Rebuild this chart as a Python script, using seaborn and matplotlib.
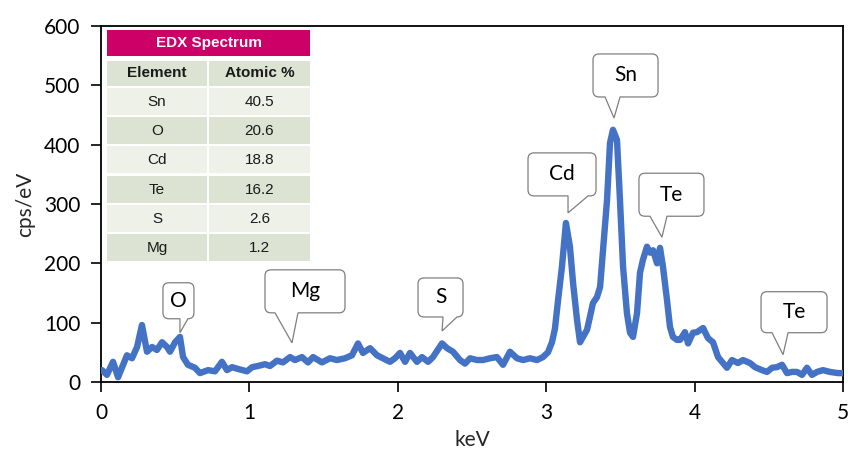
import matplotlib
matplotlib.use("Agg")
import matplotlib.pyplot as plt
import pandas as pd
import seaborn as sns
from matplotlib.path import Path
from matplotlib.patches import PathPatch, Rectangle
from matplotlib.transforms import IdentityTransform

# EDX spectrum trace
kev = [0.007, 0.040, 0.081, 0.115, 0.175, 0.209, 0.243, 0.276, 0.310, 0.344,
       0.377, 0.411, 0.445, 0.465, 0.499, 0.532, 0.553, 0.586, 0.633, 0.667,
       0.721, 0.768, 0.815, 0.849, 0.883, 0.923, 0.984, 1.018, 1.058, 1.105,
       1.139, 1.186, 1.226, 1.274, 1.307, 1.354, 1.395, 1.429, 1.489, 1.543,
       1.590, 1.644, 1.691, 1.732, 1.765, 1.813, 1.860, 1.900, 1.947, 1.981,
       2.015, 2.049, 2.082, 2.129, 2.163, 2.204, 2.237, 2.298, 2.332, 2.372,
       2.419, 2.453, 2.487, 2.534, 2.574, 2.621, 2.668, 2.709, 2.756, 2.803,
       2.844, 2.891, 2.938, 2.978, 3.012, 3.039, 3.059, 3.080, 3.106, 3.133,
       3.160, 3.181, 3.208, 3.228, 3.248, 3.275, 3.295, 3.315, 3.342, 3.363,
       3.383, 3.410, 3.430, 3.450, 3.477, 3.497, 3.518, 3.544, 3.565, 3.585,
       3.612, 3.632, 3.652, 3.679, 3.700, 3.720, 3.747, 3.767, 3.787, 3.814,
       3.834, 3.854, 3.881, 3.902, 3.935, 3.956, 3.989, 4.016, 4.057, 4.090,
       4.124, 4.158, 4.191, 4.218, 4.252, 4.292, 4.326, 4.373, 4.407, 4.454,
       4.488, 4.522, 4.555, 4.589, 4.623, 4.656, 4.690, 4.724, 4.757, 4.791,
       4.825, 4.865, 4.912, 4.966, 5.000]
cps = [20, 12, 34, 8, 45, 40, 59, 96, 51, 59,
       54, 67, 59, 51, 67, 76, 42, 29, 24, 15,
       20, 18, 34, 20, 25, 22, 18, 25, 27, 30,
       27, 36, 33, 42, 37, 42, 33, 42, 33, 40,
       37, 40, 45, 65, 49, 57, 45, 40, 34, 40,
       49, 34, 49, 34, 42, 34, 42, 65, 57, 51,
       37, 31, 40, 37, 37, 40, 42, 29, 51, 40,
       37, 40, 37, 42, 50, 67, 90, 138, 194, 268,
       228, 167, 104, 67, 76, 88, 110, 133, 143, 160,
       222, 307, 403, 425, 408, 307, 194, 116, 83, 76,
       116, 184, 206, 228, 218, 222, 200, 226, 194, 138,
       93, 76, 71, 71, 84, 65, 83, 84, 91, 74,
       67, 42, 32, 24, 37, 32, 37, 32, 25, 20,
       17, 24, 25, 29, 15, 17, 17, 12, 24, 12,
       17, 20, 17, 15, 15]

# Peak callouts: label, energy and the height the pointer reaches
peak_labels = ["O", "Mg", "S", "Cd", "Sn", "Te", "Te"]
peak_kev = [0.532, 1.287, 2.298, 3.147, 3.457, 3.780, 4.596]
peak_tip = [83, 66, 86, 285, 445, 244, 46]

# Composition table
table_title = "EDX Spectrum"
table_header = ["Element", "Atomic %"]
table_elements = ["Sn", "O", "Cd", "Te", "S", "Mg"]
table_atomic = ["40.5", "20.6", "18.8", "16.2", "2.6", "1.2"]

sns.set_theme(style="white")
plt.rcParams["font.family"] = ["Lato", "DejaVu Sans"]

W, H = 848, 459
fig = plt.figure(figsize=(W / 100, H / 100), dpi=100)
ax = fig.add_axes([101 / W, 1 - 382 / H, 742 / W, 356 / H])

df = pd.DataFrame({"keV": kev, "cps/eV": cps})
sns.lineplot(data=df, x="keV", y="cps/eV", ax=ax, color="#4472C4",
             linewidth=4.6, sort=False, estimator=None, zorder=3)
ax.lines[0].set_solid_joinstyle("round")
ax.lines[0].set_solid_capstyle("round")

ax.set_xlim(0, 5)
ax.set_ylim(0, 600)
ax.set_xticks(range(0, 6))
ax.set_yticks(range(0, 700, 100))
ax.tick_params(direction="out", length=7, width=1.2, colors="black",
               labelsize=15, pad=8, bottom=True, left=True)
for sp in ax.spines.values():
    sp.set_color("black")
    sp.set_linewidth(1.3)

ax.set_xlabel("keV", fontsize=15, va="center")
ax.xaxis.set_label_coords(0.5, -58 / 356)
ax.set_ylabel("cps/eV", fontsize=15, va="center")
ax.yaxis.set_label_coords(-76 / 742, 0.5)

# Callout shapes (pixel offsets from the pointer tip, y up)
callout_boxes = {
    0: ((-17, 14, 14, 50), (0, 14)),
    1: ((-27, 53, 30, 73), (-17, 6)),
    2: ((-24, 21, 14, 53), (1, 18)),
    3: ((-40, 28, 17, 60), (0, 20)),
    4: ((-21, 44, 21, 64), (-9, 6)),
    5: ((-23, 42, 21, 64), (-12, 5)),
    6: ((-22, 44, 22, 63), (-11, 5)),
}


def callout_path(tx, ty, box, base, rad=6):
    l, r, b, t = box
    b0, b1 = base
    l, r, b, t = tx + l, tx + r, ty + b, ty + t
    b0 = max(tx + b0, l + rad)
    b1 = min(tx + b1, r - rad)
    verts = [(l + rad, b), (b0, b), (tx, ty), (b1, b), (r - rad, b),
             (r, b), (r, b + rad), (r, t - rad), (r, t), (r - rad, t),
             (l + rad, t), (l, t), (l, t - rad), (l, b + rad), (l, b),
             (l + rad, b)]
    codes = [Path.MOVETO, Path.LINETO, Path.LINETO, Path.LINETO, Path.LINETO,
             Path.CURVE3, Path.CURVE3, Path.LINETO, Path.CURVE3, Path.CURVE3,
             Path.LINETO, Path.CURVE3, Path.CURVE3, Path.LINETO, Path.CURVE3,
             Path.CURVE3]
    return Path(verts, codes)


for i, (lab, xk, yk) in enumerate(zip(peak_labels, peak_kev, peak_tip)):
    box, base = callout_boxes[i]
    tx, ty = ax.transData.transform((xk, yk))
    patch = PathPatch(callout_path(tx, ty, box, base), transform=IdentityTransform(),
                      facecolor="white", edgecolor="#7f7f7f", linewidth=0.9,
                      zorder=5, clip_on=False)
    ax.add_artist(patch)
    cx = tx + (box[0] + box[1]) / 2
    cy = ty + (box[2] + box[3]) / 2
    ax.text(cx, cy, lab, transform=IdentityTransform(), ha="center",
            va="center", fontsize=15, color="black", zorder=6, clip_on=False)

# Composition table drawn as cells in pixel units
tab = fig.add_axes([105 / W, 1 - 264 / H, 207 / W, 236 / H])
tab.set_xlim(-2, 205)
tab.set_ylim(234, -2)
tab.axis("off")
tab.add_patch(Rectangle((-2, -2), 207, 236, facecolor="white", edgecolor="none"))

tfont = ["Liberation Sans", "DejaVu Sans"]
tab.add_patch(Rectangle((0, 0), 203, 26, facecolor="#CC0066", edgecolor="none"))
tab.text(101.5, 13.5, table_title, ha="center", va="center", color="white",
         fontsize=11, fontweight="bold", family=tfont)

header_c = "#DCE3D2"
light_c = "#EDF1E7"
tab.add_patch(Rectangle((0, 31), 100, 25, facecolor=header_c, edgecolor="none"))
tab.add_patch(Rectangle((102, 31), 101, 25, facecolor=header_c, edgecolor="none"))
tab.text(50, 43.5, table_header[0], ha="center", va="center", fontsize=11,
         fontweight="bold", family=tfont, color="#1a1a1a")
tab.text(152.5, 43.5, table_header[1], ha="center", va="center", fontsize=11,
         fontweight="bold", family=tfont, color="#1a1a1a")

for i, (el, at) in enumerate(zip(table_elements, table_atomic)):
    top = 58 + i * 29.2
    c = light_c if i % 2 == 0 else header_c
    tab.add_patch(Rectangle((0, top), 100, 27, facecolor=c, edgecolor="none"))
    tab.add_patch(Rectangle((102, top), 101, 27, facecolor=c, edgecolor="none"))
    tab.text(50, top + 14, el, ha="center", va="center", fontsize=11,
             family=tfont, color="#1a1a1a")
    tab.text(152.5, top + 14, at, ha="center", va="center", fontsize=11,
             family=tfont, color="#1a1a1a")

fig.savefig("out.png", dpi=100)
